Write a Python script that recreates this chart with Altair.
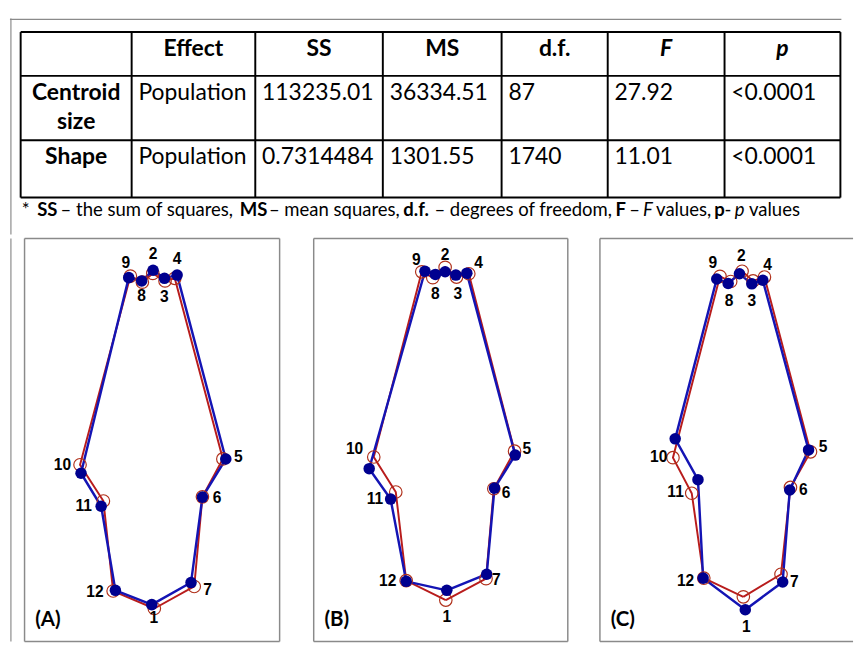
import altair as alt
import pandas as pd

# ---------------- table values ----------------
HEADERS = ["", "Effect", "SS", "MS", "d.f.", "F", "p"]
ROW_NAMES = ["Centroid size", "Shape"]
EFFECT = ["Population", "Population"]
SS = ["113235.01", "0.7314484"]
MS = ["36334.51", "1301.55"]
DF = ["87", "1740"]
F_VALUES = ["27.92", "11.01"]
P_VALUES = ["<0.0001", "<0.0001"]

FOOTNOTE = [
    ("*", "plain"), ("SS", "bold"), ("– the sum of squares,", "plain"),
    ("MS", "bold"), ("– mean squares,", "plain"), ("d.f.", "bold"),
    ("– degrees of freedom,", "plain"), ("F", "bold"), ("–", "plain"),
    ("F", "italic"), ("values,", "plain"), ("p", "bold"), ("-", "plain"),
    ("p", "italic"), ("values", "plain"),
]

# ---------------- landmark values (panel units, y downward) ----------------
LANDMARKS = list(range(1, 13))
OUTLINE = [1, 7, 6, 5, 4, 3, 2, 8, 9, 10, 11, 12, 1]

A_BLUE_X = [130.7, 132.0, 143.7, 156.7, 206.7, 182.7, 171.0, 120.3, 107.0, 58.0, 78.7, 93.3]
A_BLUE_Y = [377.0, 32.7, 41.0, 37.7, 227.0, 266.3, 354.3, 43.7, 40.3, 241.7, 275.7, 362.3]
A_RED_X = [133.3, 131.7, 144.3, 154.3, 203.7, 182.7, 174.3, 121.0, 108.7, 57.0, 81.0, 91.0]
A_RED_Y = [381.0, 36.0, 43.7, 41.0, 227.0, 266.0, 358.3, 45.0, 38.7, 233.0, 270.3, 363.0]

B_BLUE_X = [136.7, 135.0, 146.0, 157.3, 207.0, 185.7, 177.7, 125.0, 114.3, 57.0, 79.0, 95.0]
B_BLUE_Y = [362.3, 34.3, 37.7, 35.7, 223.0, 257.0, 345.7, 37.0, 33.7, 237.0, 268.3, 353.0]
B_RED_X = [135.7, 135.0, 146.7, 159.3, 206.3, 185.0, 177.0, 122.3, 111.0, 61.7, 84.3, 95.0]
B_RED_Y = [372.3, 29.7, 39.7, 36.3, 219.0, 257.7, 350.3, 40.3, 34.3, 225.0, 261.0, 352.3]

C_BLUE_X = [149.3, 143.3, 156.0, 167.3, 214.3, 195.0, 187.7, 131.7, 120.0, 77.3, 100.7, 106.0]
C_BLUE_Y = [382.3, 36.3, 46.7, 43.0, 217.7, 259.0, 353.7, 46.3, 41.7, 206.3, 248.3, 349.7]
C_RED_X = [147.3, 146.0, 157.3, 169.0, 216.3, 195.7, 186.0, 134.3, 123.3, 75.0, 94.3, 106.7]
C_RED_Y = [369.0, 33.7, 43.7, 39.7, 219.7, 256.3, 345.7, 44.3, 39.0, 225.7, 262.3, 349.7]

# ---------------- layout / style ----------------
TABLE_W, TABLE_H = 854, 222
COL_EDGES = [11, 125, 252, 383, 505, 614, 734, 853]
ROW_EDGES = [14, 59, 125, 184]
HEADER_BASE = 39
ROW_BASE = [84, 150]
CELL_PAD = 7
FOOT_X = [12, 28, 52, 236, 266, 404, 436, 622, 636.1, 650.3, 663.7, 723.5, 734.0, 744.4, 759.1]
FOOT_BASE = 203

PANEL_H = 414
PANEL_DOMAIN_H = 415
LABEL_OFFSETS = {
    "A": [(2, 14), (0, -17), (0, 19), (0, -16), (13, -2), (15, 1), (17, 8), (0, 16), (-3, -15), (-19, -8), (-18, 0), (-21, 2)],
    "B": [(0, 28), (0, -17), (2, 20), (12, -10), (12, -6), (12, 5), (10, 6), (0, 20), (-9, -11), (-15, -20), (-16, 0), (-19, 0)],
    "C": [(1, 18), (2, -18), (0, 18), (5, -16), (15, -3), (14, 0), (12, 0), (1, 18), (-4, -16), (-17, 19), (-23, 13), (-18, 3)],
}

TABLE_FONT = "Lato"
TABLE_SIZE = 23.5
FOOT_SIZE = 19
LABEL_FONT = "Liberation Sans"
BLUE_LINE = "#1414b4"
BLUE_DOT = "#00008f"
RED_LINE = "#b81c1c"
RED_RING = "#b0301a"
FRAME_GRAY = "#8a8a8a"

one = pd.DataFrame({"k": [0]})

# ---------------- table chart ----------------
tx = alt.Scale(domain=[0, TABLE_W], nice=False, zero=False)
ty = alt.Scale(domain=[0, TABLE_H], reverse=True, nice=False, zero=False)

hr = pd.DataFrame({"y": ROW_EDGES, "x": [COL_EDGES[0]] * len(ROW_EDGES), "x2": [COL_EDGES[-1]] * len(ROW_EDGES)})
vr = pd.DataFrame({"x": COL_EDGES, "y": [ROW_EDGES[0]] * len(COL_EDGES), "y2": [ROW_EDGES[-1]] * len(COL_EDGES)})

h_rules = alt.Chart(hr).mark_rule(color="black", strokeWidth=2).encode(
    x=alt.X("x:Q", scale=tx, axis=None), x2="x2:Q", y=alt.Y("y:Q", scale=ty, axis=None))
v_rules = alt.Chart(vr).mark_rule(color="black", strokeWidth=2).encode(
    x=alt.X("x:Q", scale=tx, axis=None), y=alt.Y("y:Q", scale=ty, axis=None), y2="y2:Q")

outer_top = alt.Chart(one).mark_rule(color=FRAME_GRAY, strokeWidth=1.2).encode(
    x=alt.value(0), x2=alt.value(TABLE_W), y=alt.value(1))
outer_left = alt.Chart(one).mark_rule(color=FRAME_GRAY, strokeWidth=1.2).encode(
    x=alt.value(1), y=alt.value(0), y2=alt.value(TABLE_H))

col_centers = [(COL_EDGES[i] + COL_EDGES[i + 1]) / 2 for i in range(len(HEADERS))]
hdr = pd.DataFrame({"x": col_centers, "y": [HEADER_BASE] * len(HEADERS), "t": HEADERS,
                    "it": [h in ("F", "p") for h in HEADERS]})
hdr_plain = alt.Chart(hdr[(~hdr["it"]) & (hdr["t"] != "")]).mark_text(
    font=TABLE_FONT, fontSize=TABLE_SIZE, fontWeight="bold", align="center", baseline="alphabetic", color="black"
).encode(x=alt.X("x:Q", scale=tx, axis=None), y=alt.Y("y:Q", scale=ty, axis=None), text="t:N")
hdr_ital = alt.Chart(hdr[hdr["it"]]).mark_text(
    font=TABLE_FONT, fontSize=TABLE_SIZE, fontWeight="bold", fontStyle="italic", align="center",
    baseline="alphabetic", color="black"
).encode(x=alt.X("x:Q", scale=tx, axis=None), y=alt.Y("y:Q", scale=ty, axis=None), text="t:N")

rn = pd.DataFrame({"x": [col_centers[0]] * 2, "y": ROW_BASE, "t": ROW_NAMES})
row_names = alt.Chart(rn).mark_text(
    font=TABLE_FONT, fontSize=TABLE_SIZE, fontWeight="bold", align="center", baseline="alphabetic",
    color="black", lineBreak=" ", lineHeight=30
).encode(x=alt.X("x:Q", scale=tx, axis=None), y=alt.Y("y:Q", scale=ty, axis=None), text="t:N")

cells_rows = []
for r in range(2):
    vals = [EFFECT[r], SS[r], MS[r], DF[r], F_VALUES[r], P_VALUES[r]]
    for c, v in enumerate(vals, start=1):
        cells_rows.append({"x": COL_EDGES[c] + CELL_PAD, "y": ROW_BASE[r], "t": v})
cells = alt.Chart(pd.DataFrame(cells_rows)).mark_text(
    font=TABLE_FONT, fontSize=TABLE_SIZE, align="left", baseline="alphabetic", color="black"
).encode(x=alt.X("x:Q", scale=tx, axis=None), y=alt.Y("y:Q", scale=ty, axis=None), text="t:N")

fn = pd.DataFrame({"x": FOOT_X, "y": [FOOT_BASE] * len(FOOTNOTE),
                   "t": [s[0] for s in FOOTNOTE], "s": [s[1] for s in FOOTNOTE]})
foot_layers = []
for style, kw in [("plain", {}), ("bold", {"fontWeight": "bold"}), ("italic", {"fontStyle": "italic"})]:
    foot_layers.append(alt.Chart(fn[fn["s"] == style]).mark_text(
        font=TABLE_FONT, fontSize=FOOT_SIZE, align="left", baseline="alphabetic", color="black", **kw
    ).encode(x=alt.X("x:Q", scale=tx, axis=None), y=alt.Y("y:Q", scale=ty, axis=None), text="t:N"))

table_chart = alt.layer(outer_top, outer_left, h_rules, v_rules, hdr_plain, hdr_ital, row_names, cells,
                        *foot_layers).properties(width=TABLE_W, height=TABLE_H)


# ---------------- landmark panels ----------------
def panel(tag, bx, by, rx, ry, width, right_border=True):
    offs = LABEL_OFFSETS[tag]
    pts = pd.DataFrame({"lm": LANDMARKS, "bx": bx, "by": by, "rx": rx, "ry": ry})
    path = pd.DataFrame([{"ord": i, "bx": bx[lm - 1], "by": by[lm - 1], "rx": rx[lm - 1], "ry": ry[lm - 1]}
                         for i, lm in enumerate(OUTLINE)])
    labs = pd.DataFrame({"t": [str(l) for l in LANDMARKS],
                         "lx": [bx[i] + offs[i][0] for i in range(12)],
                         "ly": [by[i] + offs[i][1] for i in range(12)]})
    xs = alt.Scale(domain=[0, width], nice=False, zero=False)
    ys = alt.Scale(domain=[0, PANEL_DOMAIN_H], reverse=True, nice=False, zero=False)

    red_line = alt.Chart(path).mark_line(color=RED_LINE, strokeWidth=2).encode(
        x=alt.X("rx:Q", scale=xs, axis=None), y=alt.Y("ry:Q", scale=ys, axis=None), order="ord:Q")
    blue_line = alt.Chart(path).mark_line(color=BLUE_LINE, strokeWidth=2.5).encode(
        x=alt.X("bx:Q", scale=xs, axis=None), y=alt.Y("by:Q", scale=ys, axis=None), order="ord:Q")
    red_pts = alt.Chart(pts).mark_point(shape="circle", filled=False, color=RED_RING, size=165,
                                        strokeWidth=1.2, opacity=1).encode(
        x=alt.X("rx:Q", scale=xs, axis=None), y=alt.Y("ry:Q", scale=ys, axis=None))
    blue_pts = alt.Chart(pts).mark_circle(color=BLUE_DOT, size=140, opacity=1).encode(
        x=alt.X("bx:Q", scale=xs, axis=None), y=alt.Y("by:Q", scale=ys, axis=None))
    labels = alt.Chart(labs).mark_text(font=LABEL_FONT, fontSize=16, fontWeight="bold", color="black",
                                       align="center", baseline="middle").encode(
        x=alt.X("lx:Q", scale=xs, axis=None), y=alt.Y("ly:Q", scale=ys, axis=None), text="t:N")
    tag_txt = alt.Chart(one).mark_text(font=TABLE_FONT, fontSize=21, fontWeight="bold", color="black",
                                       align="left", baseline="middle", text=f"({tag})").encode(
        x=alt.value(11), y=alt.value(392))

    borders = [
        alt.Chart(one).mark_rule(color=FRAME_GRAY, strokeWidth=1.5).encode(
            x=alt.value(0), y=alt.value(0), y2=alt.value(PANEL_H)),
        alt.Chart(one).mark_rule(color=FRAME_GRAY, strokeWidth=1.5).encode(
            x=alt.value(0), x2=alt.value(width), y=alt.value(0)),
        alt.Chart(one).mark_rule(color=FRAME_GRAY, strokeWidth=1.5).encode(
            x=alt.value(0), x2=alt.value(width), y=alt.value(PANEL_H)),
    ]
    if right_border:
        borders.append(alt.Chart(one).mark_rule(color=FRAME_GRAY, strokeWidth=1.5).encode(
            x=alt.value(width), y=alt.value(0), y2=alt.value(PANEL_H)))

    return alt.layer(*borders, red_line, blue_line, red_pts, blue_pts, labels, tag_txt).properties(
        width=width, height=PANEL_H)


spacer = alt.Chart(one).mark_rule(color=FRAME_GRAY, strokeWidth=1.2).encode(
    x=alt.value(1), y=alt.value(0), y2=alt.value(PANEL_H)).properties(width=1, height=PANEL_H)

pA = panel("A", A_BLUE_X, A_BLUE_Y, A_RED_X, A_RED_Y, 262)
pB = panel("B", B_BLUE_X, B_BLUE_Y, B_RED_X, B_RED_Y, 261)
pC = panel("C", C_BLUE_X, C_BLUE_Y, C_RED_X, C_RED_Y, 260, right_border=False)

row = alt.hconcat(alt.hconcat(alt.hconcat(spacer, pA, spacing=10), pB, spacing=31), pC, spacing=29)

chart = alt.vconcat(table_chart, row, spacing=0, padding=0, background="white").configure_view(
    stroke="transparent")

chart.save("out.html", embed_options={"renderer": "svg", "actions": False})
